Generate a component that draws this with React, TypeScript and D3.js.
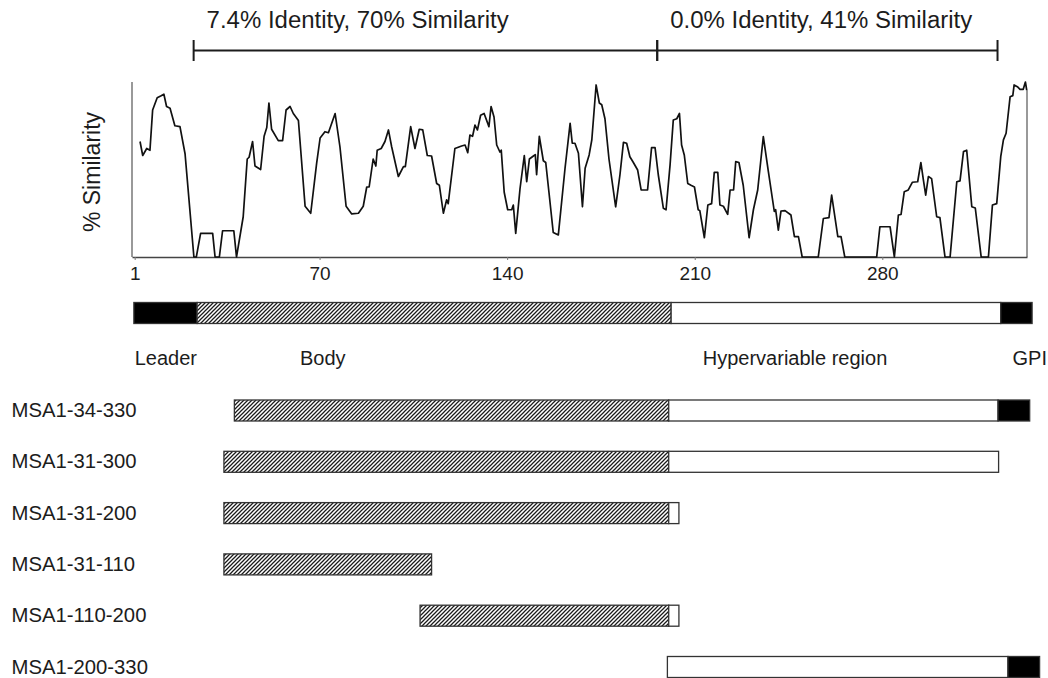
import React, { useEffect, useRef } from "react"
import * as d3 from "d3"

// similarity trace (residue position, % similarity)
const residue = [
  3, 4, 5.5, 6.7, 7.7, 9.4, 10.7, 11.9, 12.9, 14.2,
  16, 17.9, 19.8, 23.1, 24, 25.6, 30.1, 31, 32.6, 33.8,
  38, 39, 41.5, 43, 43.7, 45, 45.9, 48, 49.3, 50.3,
  51.1, 52.1, 54.6, 56.2, 57.5, 59, 60.2, 62.1, 64.6, 66.7,
  68.9, 70.2, 72, 73.3, 75.8, 77.6, 79.9, 82, 84.5, 86.3,
  87.6, 88.5, 90, 91, 91.5, 93, 94.4, 95.7, 96.9, 99.4,
  101.3, 102, 104, 105.6, 107.2, 108.5, 110.2, 111.8, 113.7, 114.7,
  116.2, 117.4, 118, 120.5, 123, 124.3, 125.3, 126.1, 127.1, 128,
  128.9, 130.1, 131.4, 133.2, 134, 135.1, 136.1, 137.3, 137.8, 138.9,
  140.2, 141.7, 142.3, 143.2, 144.8, 146.4, 147.3, 148.3, 149.8, 150.5,
  151, 152, 153.5, 154.4, 155.6, 157.2, 159.1, 161.6, 163.5, 164.3,
  165.3, 166.6, 168.1, 169.1, 170.6, 171.6, 173.2, 174.4, 175.3, 176.5,
  178, 180.5, 182.1, 183.4, 184.6, 185.8, 187.1, 188.7, 190, 192.4,
  193.9, 195.2, 196.4, 198.3, 199.3, 200.8, 202, 203.3, 204.3, 205.1,
  206.1, 207.4, 208.6, 209.9, 211.3, 211.9, 213.6, 214.9, 216.3, 217.3,
  218.6, 219.4, 220.7, 222.3, 223.2, 224.5, 225.3, 226.5, 228.1, 230.3,
  231.9, 233.5, 235.6, 237.5, 239.7, 240.2, 241.2, 242.2, 243.7, 245.9,
  247.2, 248.7, 250.1, 256.1, 258, 260.1, 261.1, 263.4, 264.6, 266,
  277.9, 279.1, 282.9, 284.5, 286, 287, 288.2, 289.7, 291.2, 293.2,
  294.4, 295.3, 296.2, 297.2, 298.4, 300.3, 301.5, 303.4, 305.3, 307.8,
  309, 310.3, 311.5, 313.4, 314.7, 316.9, 319.6, 321.1, 322.7, 324.2,
  325.2, 326.2, 327.7, 328.7, 329.2, 330.4, 331.4, 332.6, 333.4, 333.9
]
const similarity = [
  66, 58, 62, 61, 84, 91, 92, 93, 86, 85,
  75, 74.5, 59, 0, 0, 13.5, 13.5, 0, 0, 15,
  15, 0, 23, 56, 57, 66, 52, 50, 69, 74,
  88, 73, 66.5, 66.5, 84, 86, 82, 78, 29, 25,
  53.5, 68, 71.6, 71, 82, 63, 29, 24.6, 25, 29,
  40, 40, 56, 52, 61, 62, 66, 72.6, 63, 46,
  51.6, 51.6, 74.5, 62, 73, 72.6, 58, 57.7, 42, 41,
  25, 32.6, 30.5, 62, 63.4, 64, 59.6, 69.7, 69, 75.4,
  72.6, 81, 82, 74.5, 86, 80, 64, 60, 61, 37,
  27, 27, 29.7, 13.5, 39, 58, 43, 56, 57.7, 58.5,
  47, 69, 55, 54, 37, 14, 12.6, 50.7, 76.4, 65,
  65, 59.3, 28.7, 50.7, 58.3, 67, 98.3, 88, 87, 79,
  56, 28.7, 47, 65.5, 65, 57.3, 54, 49.7, 38.3, 38.3,
  62.5, 62.5, 47, 27.8, 27, 52.6, 78.3, 79, 82, 64,
  58.3, 42, 41, 40, 27, 26.5, 11, 29.7, 30.5, 48.4,
  48.4, 29.7, 29, 24.4, 38.3, 38.3, 54.5, 54, 41, 11,
  27, 38.3, 68.8, 48.7, 26, 27, 15.4, 26.3, 26.5, 24,
  11.6, 11.6, 0, 0, 22, 22.5, 35.4, 11.6, 11.6, 0,
  0, 17.3, 17.3, 0, 24, 24.3, 37.3, 38.3, 42.7, 43,
  54, 44.4, 35.4, 46, 44.8, 23, 22.5, 0, 0, 43,
  43.5, 60.2, 61, 28.7, 28, 0, 0, 29.7, 30.5, 57.3,
  66.9, 70.7, 91.6, 92.2, 98.3, 97.3, 95.8, 95.8, 100, 95.4
]

const tickValues = [1, 70, 140, 210, 280]

const comparisonLabels = ["7.4% Identity, 70% Similarity", "0.0% Identity, 41% Similarity"]
const comparisonStart = [23, 196]
const comparisonEnd = [196, 323]

// full-length protein domains
const domainNames = ["Leader", "Body", "Hypervariable region", "GPI"]
const domainStart = [0.7, 24.3, 201.2, 324.2]
const domainEnd = [24.3, 201.2, 324.2, 335.9]
const domainLabelAt = [1, 62.7, 213, 328.6]

// recombinant constructs: [domain, start, end]
const constructNames = ["MSA1-34-330", "MSA1-31-300", "MSA1-31-200", "MSA1-31-110", "MSA1-110-200", "MSA1-200-330"]
const constructSegments: [string, number, number][][] = [
  [["Body", 38.2, 200.3], ["Hypervariable region", 200.3, 323.2], ["GPI", 323.2, 335]],
  [["Body", 34.3, 200.3], ["Hypervariable region", 200.3, 323.4]],
  [["Body", 34.3, 200.3], ["Hypervariable region", 200.3, 204.1]],
  [["Body", 34.3, 111.8]],
  [["Body", 107.5, 200.3], ["Hypervariable region", 200.3, 204.1]],
  [["Hypervariable region", 199.8, 326.9], ["GPI", 326.9, 338.7]]
]

function App() {
  const ref = useRef<SVGSVGElement>(null)

  useEffect(() => {
    const svg = d3.select(ref.current)
    svg.selectAll("*").remove()

    const font = "'Liberation Sans', Arial, sans-serif"
    const ink = "#1c1c1c"

    const x = d3.scaleLinear().domain([0, 334]).range([132, 1027])
    const y = d3.scaleLinear().domain([0, 100]).range([257, 82])
    const row = d3.scalePoint().domain(constructNames).range([410.5, 667])
    const barH = 21

    const fillFor = (d: string) =>
      d === "Body" ? "url(#hatch)" : d === "Hypervariable region" ? "white" : "black"

    const pat = svg
      .append("defs")
      .append("pattern")
      .attr("id", "hatch")
      .attr("patternUnits", "userSpaceOnUse")
      .attr("width", 4)
      .attr("height", 4)
    pat.append("rect").attr("width", 4).attr("height", 4).attr("fill", "white")
    pat
      .append("path")
      .attr("d", "M-1,1 L1,-1 M0,4 L4,0 M3,5 L5,3")
      .attr("stroke", "#1a1a1a")
      .attr("stroke-width", 1.25)

    // identity / similarity brackets
    const br = svg.append("g").attr("stroke", ink).attr("stroke-width", 2)
    comparisonLabels.forEach((label, i) => {
      br.append("line")
        .attr("x1", x(comparisonStart[i])).attr("x2", x(comparisonEnd[i]))
        .attr("y1", 50.5).attr("y2", 50.5)
      ;[comparisonStart[i], comparisonEnd[i]].forEach(p => {
        br.append("line").attr("x1", x(p)).attr("x2", x(p)).attr("y1", 40).attr("y2", 61)
      })
      svg.append("text")
        .attr("x", x(comparisonStart[i]) + 13)
        .attr("y", 28)
        .attr("font-family", font)
        .attr("font-size", 23)
        .attr("textLength", 302)
        .attr("lengthAdjust", "spacingAndGlyphs")
        .attr("fill", ink)
        .text(label)
    })

    // axes
    svg.append("line")
      .attr("x1", x(0)).attr("x2", x(0))
      .attr("y1", y(0)).attr("y2", y(100))
      .attr("stroke", "#555").attr("stroke-width", 1.2)
    svg.append("line")
      .attr("x1", x(334)).attr("x2", x(334))
      .attr("y1", y(0)).attr("y2", y(similarity[similarity.length - 1]))
      .attr("stroke", "#555").attr("stroke-width", 1.2)

    const axis = d3.axisBottom(x).tickValues(tickValues).tickSize(3).tickSizeOuter(0).tickPadding(6.5)
    const g = svg.append("g")
      .attr("transform", `translate(0,${y(0)})`)
      .call(axis)
      .attr("font-family", font)
      .attr("font-size", 19)
    g.select(".domain").attr("stroke", "#444").attr("stroke-width", 1.3)
    g.selectAll(".tick line").attr("stroke", "#777")
    g.selectAll(".tick text").attr("fill", ink)

    svg.append("text")
      .attr("transform", "translate(100,172) rotate(-90)")
      .attr("text-anchor", "middle")
      .attr("font-family", font)
      .attr("font-size", 23)
      .attr("fill", ink)
      .text("% Similarity")

    // similarity trace
    const line = d3.line<number>()
      .x(i => x(residue[i]))
      .y(i => y(similarity[i]))
    svg.append("path")
      .attr("d", line(d3.range(residue.length)))
      .attr("fill", "none")
      .attr("stroke", "#111")
      .attr("stroke-width", 1.7)
      .attr("stroke-linejoin", "round")

    // full-length domain bar
    svg.append("g")
      .selectAll("rect")
      .data(domainNames)
      .join("rect")
      .attr("x", (d, i) => x(domainStart[i]))
      .attr("width", (d, i) => x(domainEnd[i]) - x(domainStart[i]))
      .attr("y", 302.5)
      .attr("height", barH)
      .attr("fill", d => fillFor(d))
      .attr("stroke", "#333")
      .attr("stroke-width", 1.3)

    svg.append("g")
      .selectAll("text")
      .data(domainNames)
      .join("text")
      .attr("x", (d, i) => x(domainLabelAt[i]))
      .attr("y", 365)
      .attr("font-family", font)
      .attr("font-size", 20)
      .attr("fill", ink)
      .text(d => d)

    // constructs
    constructNames.forEach((name, i) => {
      const cy = row(name) as number
      svg.append("text")
        .attr("x", 11.5)
        .attr("y", cy + 6.5)
        .attr("font-family", font)
        .attr("font-size", 20.3)
        .attr("fill", ink)
        .text(name)
      svg.append("g")
        .selectAll("rect")
        .data(constructSegments[i])
        .join("rect")
        .attr("x", d => x(d[1]))
        .attr("width", d => x(d[2]) - x(d[1]))
        .attr("y", cy - barH / 2)
        .attr("height", barH)
        .attr("fill", d => fillFor(d[0]))
        .attr("stroke", "#333")
        .attr("stroke-width", 1.3)
    })
  }, [])

  return (
    <svg
      ref={ref}
      width={1048}
      height={678}
      style={{ position: "absolute", left: 0, top: 0, background: "white" }}
    />
  )
}

export default App
